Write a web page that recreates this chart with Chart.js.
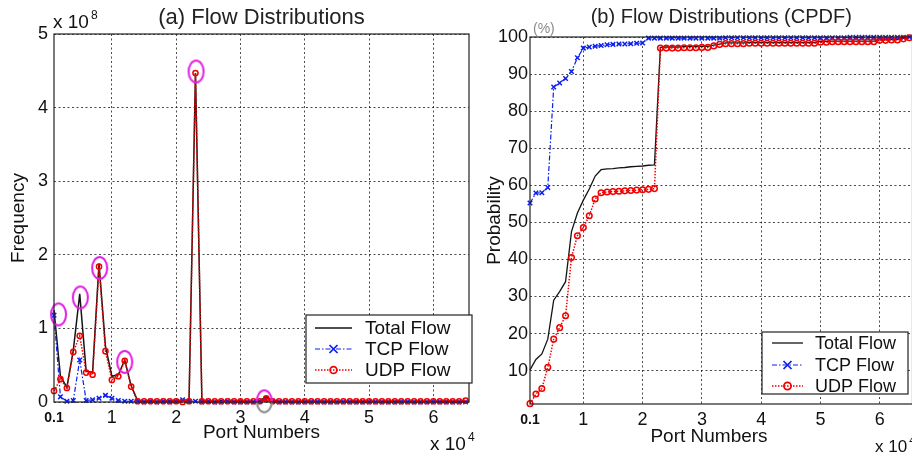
<!DOCTYPE html>
<html>
<head>
<meta charset="utf-8">
<script src="https://cdn.jsdelivr.net/npm/chart.js@4.4.1/dist/chart.umd.min.js"></script>
<style>
  html, body { margin: 0; padding: 0; background: #fff; overflow: hidden; width: 912px; height: 454px; }
  #flowChart { position: absolute; left: 0; top: 0; }
  #cpdfChart { position: absolute; left: 478px; top: 0; }
</style>
</head>
<body>
<canvas id="flowChart" width="480" height="454"></canvas>
<canvas id="cpdfChart" width="440" height="454"></canvas>
<script>
// port bins (x 10^4)
const ports = [0.1, 0.2, 0.3, 0.4, 0.5, 0.6, 0.7, 0.8, 0.9, 1.0,
  1.1, 1.2, 1.3, 1.4, 1.5, 1.6, 1.7, 1.8, 1.9, 2.0,
  2.1, 2.2, 2.3, 2.4, 2.5, 2.6, 2.7, 2.8, 2.9, 3.0,
  3.1, 3.2, 3.3, 3.4, 3.5, 3.6, 3.7, 3.8, 3.9, 4.0,
  4.1, 4.2, 4.3, 4.4, 4.5, 4.6, 4.7, 4.8, 4.9, 5.0,
  5.1, 5.2, 5.3, 5.4, 5.5, 5.6, 5.7, 5.8, 5.9, 6.0,
  6.1, 6.2, 6.3, 6.4, 6.5];
const xTicks = [0.1, 1, 2, 3, 4, 5, 6];

// (a) frequency, x 10^8
const totalFreq = [1.25, 0.35, 0.20, 0.70, 1.47, 0.42, 0.40, 1.88, 0.76, 0.35,
  0.37, 0.57, 0.22, 0.02, 0.01, 0.02, 0.01, 0.01, 0.02, 0.01,
  0.03, 0.02, 4.47, 0.02, 0.01, 0.01, 0.02, 0.01, 0.01, 0.01,
  0.01, 0.01, 0.02, 0.07, 0.02, 0.01, 0.01, 0.01, 0.01, 0.01,
  0.01, 0.01, 0.01, 0.01, 0.01, 0.01, 0.01, 0.01, 0.01, 0.01,
  0.01, 0.01, 0.01, 0.01, 0.01, 0.01, 0.01, 0.01, 0.01, 0.01,
  0.01, 0.01, 0.01, 0.01, 0.02];
const tcpFreq = [1.18, 0.07, 0.01, 0.02, 0.57, 0.02, 0.03, 0.05, 0.09, 0.05,
  0.02, 0.01, 0.01, 0.01, 0.00, 0.01, 0.00, 0.01, 0.00, 0.01,
  0.03, 0.01, 0.01, 0.00, 0.01, 0.00, 0.00, 0.01, 0.00, 0.00,
  0.00, 0.00, 0.01, 0.03, 0.01, 0.00, 0.00, 0.00, 0.00, 0.00,
  0.00, 0.00, 0.00, 0.00, 0.00, 0.00, 0.00, 0.00, 0.00, 0.00,
  0.00, 0.00, 0.00, 0.00, 0.00, 0.00, 0.00, 0.00, 0.00, 0.00,
  0.00, 0.00, 0.00, 0.00, 0.00];
const udpFreq = [0.15, 0.31, 0.19, 0.68, 0.90, 0.40, 0.37, 1.84, 0.69, 0.30,
  0.35, 0.56, 0.21, 0.01, 0.01, 0.01, 0.01, 0.01, 0.01, 0.01,
  0.00, 0.01, 4.47, 0.01, 0.01, 0.01, 0.01, 0.01, 0.01, 0.01,
  0.01, 0.01, 0.01, 0.05, 0.01, 0.01, 0.01, 0.01, 0.01, 0.01,
  0.01, 0.01, 0.01, 0.01, 0.01, 0.01, 0.01, 0.01, 0.01, 0.01,
  0.01, 0.01, 0.01, 0.01, 0.01, 0.01, 0.01, 0.01, 0.01, 0.01,
  0.01, 0.01, 0.01, 0.01, 0.02];
// circled peaks
const circledX = [0.17, 0.51, 0.81, 1.2, 2.31, 3.37];
const circledY = [1.19, 1.42, 1.82, 0.545, 4.49, 0.01];

// (b) CPDF, %
const totalCdf = [10.2, 13.0, 14.5, 18.5, 29.0, 31.3, 34.0, 47.5, 52.5, 56.0,
  59.0, 62.5, 64.2, 64.4, 64.5, 64.7, 64.8, 65.0, 65.1, 65.2,
  65.4, 65.5, 97.2, 97.3, 97.3, 97.3, 97.4, 97.4, 97.4, 97.5,
  97.5, 97.8, 98.1, 98.4, 98.4, 98.4, 98.4, 98.5, 98.5, 98.5,
  98.5, 98.5, 98.5, 98.5, 98.5, 98.5, 98.5, 98.5, 98.5, 98.8,
  98.8, 98.9, 98.9, 98.9, 98.9, 98.9, 98.9, 98.9, 98.9, 99.2,
  99.2, 99.3, 99.3, 99.6, 99.9];
const tcpCdf = [55.2, 57.9, 58.0, 59.4, 86.5, 87.6, 88.8, 90.7, 94.4, 97.0,
  97.3, 97.5, 97.7, 97.9, 98.0, 98.1, 98.1, 98.2, 98.3, 98.4,
  99.7, 99.7, 99.7, 99.7, 99.7, 99.7, 99.7, 99.7, 99.7, 99.7,
  99.7, 99.7, 99.7, 99.8, 99.8, 99.8, 99.8, 99.8, 99.8, 99.8,
  99.8, 99.8, 99.8, 99.8, 99.8, 99.8, 99.8, 99.8, 99.8, 99.8,
  99.8, 99.8, 99.8, 99.8, 99.9, 99.9, 99.9, 99.9, 99.9, 99.9,
  99.9, 99.9, 99.9, 99.9, 100];
const udpCdf = [1.1, 3.7, 5.2, 10.9, 18.5, 21.6, 24.8, 40.5, 46.4, 48.6,
  51.8, 56.3, 58.0, 58.2, 58.3, 58.4, 58.5, 58.6, 58.7, 58.8,
  58.9, 59.1, 97.0, 97.0, 97.0, 97.0, 97.1, 97.1, 97.1, 97.2,
  97.2, 97.6, 98.0, 98.2, 98.2, 98.2, 98.2, 98.3, 98.3, 98.3,
  98.3, 98.3, 98.3, 98.3, 98.3, 98.3, 98.3, 98.3, 98.3, 98.6,
  98.6, 98.7, 98.7, 98.7, 98.7, 98.7, 98.7, 98.7, 98.7, 99.1,
  99.1, 99.2, 99.2, 99.5, 99.8];

const FONT = "'Liberation Sans', Arial, sans-serif";
const gridColor = 'rgba(30,30,30,0.8)';

function series(label, ys, color, dash, width, pointStyle, radius) {
  return {
    label: label,
    data: ports.map((x, i) => ({x: x, y: ys[i]})),
    borderColor: color,
    backgroundColor: 'rgba(0,0,0,0)',
    borderWidth: width,
    borderDash: dash,
    pointStyle: pointStyle,
    pointRadius: radius,
    pointBorderColor: color,
    pointBackgroundColor: 'rgba(255,255,255,0)',
    pointBorderWidth: 1.5,
    tension: 0,
    clip: false
  };
}

function ellipseMark(bottomColor) {
  const c = document.createElement('canvas');
  c.width = 19; c.height = 26;
  const g = c.getContext('2d');
  g.lineWidth = 2;
  g.strokeStyle = '#e21ee2';
  g.beginPath(); g.ellipse(9.5, 13, 7.5, 11, 0, Math.PI, 2 * Math.PI); g.stroke();
  g.strokeStyle = bottomColor;
  g.beginPath(); g.ellipse(9.5, 13, 7.5, 11, 0, 0, Math.PI); g.stroke();
  return c;
}
const magentaMark = ellipseMark('#e21ee2');
const greyMark = ellipseMark('#8c8c8c');

// box around plot, legend and the loose bits of text
const frame = {
  id: 'frame',
  afterDatasetsDraw(chart, args, opts) {
    const ctx = chart.ctx, a = chart.chartArea;
    ctx.save();
    ctx.setLineDash([]);
    ctx.strokeStyle = '#222';
    ctx.lineWidth = 1.2;
    ctx.strokeRect(a.left, a.top, a.right - a.left, a.bottom - a.top);

    const lg = opts.legend;
    ctx.fillStyle = '#fff';
    ctx.fillRect(lg.x, lg.y, lg.w, lg.h);
    ctx.strokeRect(lg.x, lg.y, lg.w, lg.h);
    const items = chart.data.datasets.filter(d => d.label);
    items.forEach((d, i) => {
      const y = lg.rows[i];
      ctx.strokeStyle = d.borderColor;
      ctx.lineWidth = d.borderWidth;
      ctx.setLineDash(d.borderDash);
      ctx.beginPath(); ctx.moveTo(lg.line[0], y); ctx.lineTo(lg.line[1], y); ctx.stroke();
      ctx.setLineDash([]);
      const cx = (lg.line[0] + lg.line[1]) / 2, r = d.pointRadius + 0.8;
      ctx.lineWidth = 1.7;
      if (d.pointStyle === 'crossRot' && r > 0.8) {
        ctx.beginPath();
        ctx.moveTo(cx - r, y - r); ctx.lineTo(cx + r, y + r);
        ctx.moveTo(cx - r, y + r); ctx.lineTo(cx + r, y - r);
        ctx.stroke();
      } else if (d.pointStyle === 'circle' && r > 0.8) {
        ctx.beginPath(); ctx.arc(cx, y, r, 0, 2 * Math.PI); ctx.stroke();
      }
      ctx.fillStyle = '#111';
      ctx.font = lg.size + 'px ' + FONT;
      ctx.textBaseline = 'middle';
      ctx.textAlign = 'left';
      ctx.fillText(d.label, lg.textX, y + 1);
    });

    opts.texts.forEach(t => {
      ctx.fillStyle = t.color || '#111';
      ctx.font = t.size + 'px ' + FONT;
      ctx.textBaseline = 'alphabetic';
      ctx.textAlign = t.align || 'left';
      ctx.fillText(t.text, t.x, t.y);
      if (t.sup) {
        const w = ctx.measureText(t.text).width;
        ctx.font = Math.round(t.size * 0.65) + 'px ' + FONT;
        ctx.fillText(t.sup, t.x + w + 2, t.y - t.size * 0.5);
      }
    });
    ctx.restore();
  }
};

function xAxis(height, bottomPad, showTitle) {
  return {
    type: 'linear', min: 0.1, max: 6.5536,
    afterBuildTicks: s => { s.ticks = xTicks.map(v => ({value: v})); },
    afterFit: s => { s.height = height; },
    grid: {
      color: c => (c.tick && c.tick.value === 0.1) ? 'rgba(0,0,0,0)' : gridColor,
      lineWidth: 1, drawTicks: false
    },
    border: {display: false, dash: [2, 2.5]},
    ticks: {
      color: '#111', padding: 5, autoSkip: false, maxRotation: 0,
      font: c => (c.tick && c.tick.value === 0.1)
        ? {family: FONT, size: 14, weight: 'bold', lineHeight: 1.6}
        : {family: FONT, size: 18},
      callback: v => String(v)
    },
    title: {display: showTitle, text: 'Port Numbers', color: '#111',
      font: {family: FONT, size: 19}, padding: {top: 0, bottom: bottomPad}}
  };
}

function yAxis(min, max, ticks, width, tickPad, titleText, titlePad) {
  return {
    min: min, max: max,
    afterBuildTicks: s => { s.ticks = ticks.map(v => ({value: v})); },
    afterFit: s => { s.width = width; },
    grid: {color: gridColor, lineWidth: 1, drawTicks: false},
    border: {display: false, dash: [2, 2.5]},
    ticks: {color: '#111', padding: tickPad, font: {family: FONT, size: 18}, callback: v => String(v)},
    title: {display: true, text: titleText, color: '#111',
      font: {family: FONT, size: 19}, padding: {top: titlePad, bottom: 0}}
  };
}

const flowData = {
  datasets: [
    Object.assign(series('Total Flow', totalFreq, '#141414', [], 1.5, 'circle', 0), {order: 3}),
    Object.assign(series('TCP Flow', tcpFreq, '#0a1ef0', [5, 2, 1.5, 2], 1.2, 'crossRot', 3.2), {order: 2}),
    Object.assign(series('UDP Flow', udpFreq, '#f00000', [1.5, 1.5], 1.5, 'circle', 2.6), {order: 1}),
    {
      data: circledX.map((x, i) => ({x: x, y: circledY[i]})),
      showLine: false, order: 0, clip: false,
      pointRadius: 10,
      pointStyle: c => c.dataIndex === circledX.length - 1 ? greyMark : magentaMark
    }
  ]
};

const cpdfData = {
  datasets: [
    Object.assign(series('Total Flow', totalCdf, '#141414', [], 1.3, 'circle', 0), {order: 3}),
    Object.assign(series('TCP Flow', tcpCdf, '#0a1ef0', [5, 2, 1.5, 2], 1.2, 'crossRot', 3.2), {order: 2}),
    Object.assign(series('UDP Flow', udpCdf, '#f00000', [1.5, 1.5], 1.5, 'circle', 2.8), {order: 1})
  ]
};

new Chart(document.getElementById('flowChart'), {
  type: 'line',
  data: flowData,
  plugins: [frame],
  options: {
    responsive: false,
    animation: false,
    events: [],
    layout: {padding: {left: 0, right: 7, top: 0, bottom: 0}},
    plugins: {
      legend: {display: false},
      tooltip: {enabled: false},
      title: {display: true, text: '(a) Flow Distributions', fullSize: false, color: '#222',
        font: {family: FONT, size: 22, weight: 'normal', lineHeight: 1.1}, padding: {top: 6, bottom: 3.8}},
      frame: {
        legend: {x: 306, y: 315, w: 166, h: 68, rows: [328, 349, 370], line: [315, 352], textX: 365, size: 19},
        texts: [
          {text: 'x 10', sup: '8', x: 53, y: 28, size: 19},
          {text: 'x 10', sup: '4', x: 430, y: 450, size: 19}
        ]
      }
    },
    scales: {
      x: xAxis(52, 9.6, true),
      y: yAxis(0, 5, [0, 1, 2, 3, 4, 5], 54, 6, 'Frequency', 7)
    }
  }
});

new Chart(document.getElementById('cpdfChart'), {
  type: 'line',
  data: cpdfData,
  plugins: [frame],
  options: {
    responsive: false,
    animation: false,
    events: [],
    layout: {padding: {left: 0, right: 3, top: 0, bottom: 0}},
    plugins: {
      legend: {display: false},
      tooltip: {enabled: false},
      title: {display: true, text: '(b) Flow Distributions (CPDF)', fullSize: false, color: '#222',
        font: {family: FONT, size: 20, weight: 'normal'}, padding: {top: 5, bottom: 8}},
      frame: {
        legend: {x: 284, y: 332, w: 146, h: 62, rows: [343, 365, 386], line: [294, 325], textX: 337, size: 18},
        texts: [
          {text: '(%)', x: 55, y: 33, size: 14, color: '#8a8a8a'},
          {text: 'Port Numbers', x: 231, y: 442, size: 19, align: 'center'},
          {text: 'x 10', sup: '4', x: 397, y: 452, size: 17}
        ]
      }
    },
    scales: {
      x: xAxis(50, 7.6, false),
      y: yAxis(1, 100, [10, 20, 30, 40, 50, 60, 70, 80, 90, 100], 52, 2, 'Probability', 5.6)
    }
  }
});
</script>
</body>
</html>
